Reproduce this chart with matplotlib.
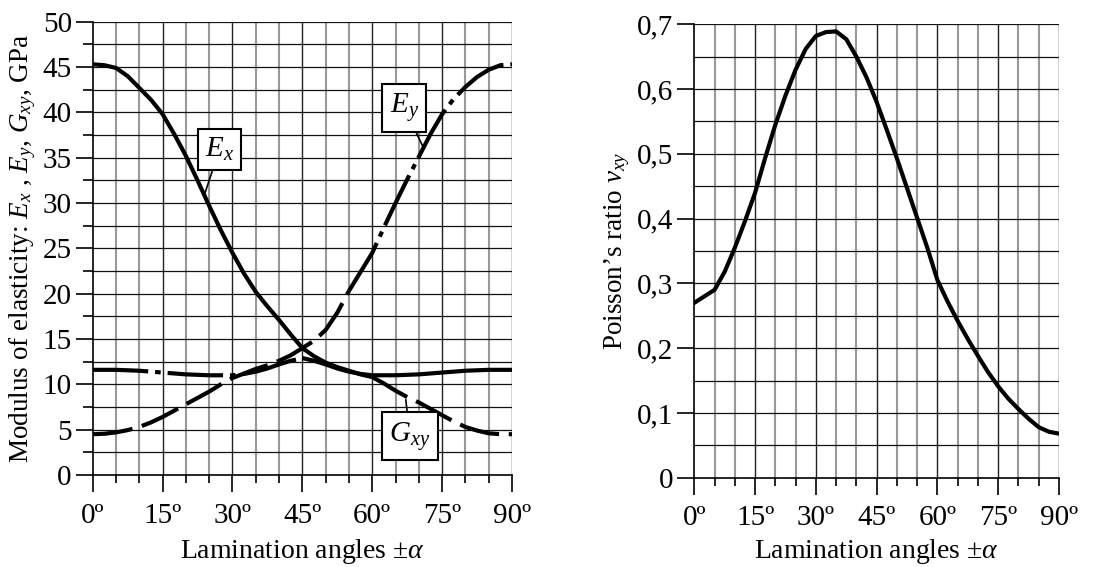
import matplotlib
matplotlib.use("Agg")
import matplotlib.pyplot as plt
import numpy as np
from matplotlib.ticker import MultipleLocator

plt.rcParams['font.family'] = ['Liberation Serif', 'DejaVu Serif']
plt.rcParams['mathtext.fontset'] = 'custom'
plt.rcParams['mathtext.rm'] = 'Liberation Serif'
plt.rcParams['mathtext.it'] = 'Liberation Serif:italic'
plt.rcParams['lines.scale_dashes'] = False

# ---- data ----
angles = [0, 2.5, 5, 7.5, 10, 12.5, 15, 17.5, 20, 22.5, 25, 27.5, 30, 32.5, 35, 37.5, 40, 42.5, 45,
          47.5, 50, 52.5, 55, 57.5, 60, 62.5, 65, 67.5, 70, 72.5, 75, 77.5, 80, 82.5, 85, 87.5, 90]
Ex = [45.3, 45.2, 44.9, 44.0, 42.7, 41.4, 39.8, 37.6, 35.2, 32.5, 29.7, 27.0, 24.5, 22.2, 20.2, 18.6, 17.1, 15.5, 14.0,
      13.1, 12.4, 11.9, 11.5, 11.1, 10.8, 10.1, 9.3, 8.6, 8.0, 7.3, 6.6, 5.9, 5.3, 4.9, 4.6, 4.5, 4.5]
Ey = [4.5, 4.55, 4.7, 4.95, 5.3, 5.8, 6.4, 7.1, 7.8, 8.5, 9.2, 10.0, 10.7, 11.2, 11.7, 12.1, 12.6, 13.2, 14.0,
      14.8, 16.0, 17.9, 20.3, 22.4, 24.5, 27.3, 30.0, 32.6, 35.1, 37.6, 39.8, 41.5, 42.8, 43.9, 44.7, 45.2, 45.3]
Gxy = [11.6, 11.6, 11.6, 11.55, 11.5, 11.4, 11.3, 11.2, 11.1, 11.05, 11.0, 11.0, 11.0, 11.15, 11.4, 11.75, 12.2, 12.6, 12.9,
       12.6, 12.2, 11.75, 11.4, 11.15, 11.0, 11.0, 11.0, 11.05, 11.1, 11.2, 11.3, 11.4, 11.5, 11.55, 11.6, 11.6, 11.6]

nu_angles = [0, 2.5, 5, 7.5, 10, 12.5, 15, 17.5, 20, 22.5, 25, 27.5, 30, 32.5, 35, 37.5, 40, 42.5, 45,
             47.5, 50, 52.5, 55, 57.5, 60, 62.5, 65, 67.5, 70, 72.5, 75, 77.5, 80, 82.5, 85, 87.5, 90]
nu = [0.270, 0.280, 0.290, 0.318, 0.355, 0.396, 0.440, 0.494, 0.545, 0.590, 0.630, 0.662, 0.682, 0.688, 0.689,
      0.677, 0.650, 0.618, 0.580, 0.537, 0.493, 0.447, 0.401, 0.355, 0.305, 0.272, 0.242, 0.214, 0.188, 0.163,
      0.141, 0.122, 0.106, 0.091, 0.078, 0.071, 0.068]

xtick_values = [0, 15, 30, 45, 60, 75, 90]
xtick_labels = ['0º', '15º', '30º', '45º', '60º', '75º', '90º']
left_ylabel = 'Modulus of elasticity: $E_x$ , $E_y$, $G_{xy}$, GPa'
right_ylabel = 'Poisson’s ratio $\\nu_{xy}$'
xlabel = 'Lamination angles ±$\\alpha$'

W, H = 1106, 567
fig = plt.figure(figsize=(W / 100, H / 100), dpi=100)

def px_rect(x0, y0, x1, y1):
    return [x0 / W, 1 - y1 / H, (x1 - x0) / W, (y1 - y0) / H]

ax1 = fig.add_axes(px_rect(92.7, 21.7, 512, 475))
ax2 = fig.add_axes(px_rect(694.3, 24.3, 1059, 477.7))

FS = 21
FS_YL = 19.5
FS_XL = 20

def style_axes(ax, ymax, ymajor, yminor, yfmt, yminor_ticks):
    ax.set_xlim(0, 90)
    ax.set_ylim(0, ymax)
    ax.set_xticks(xtick_values)
    ax.set_xticklabels(xtick_labels)
    ax.xaxis.set_minor_locator(MultipleLocator(5))
    yt = np.arange(0, ymax + 1e-9, ymajor)
    ax.set_yticks(yt)
    ax.set_yticklabels([yfmt(v) for v in yt])
    ax.yaxis.set_minor_locator(MultipleLocator(yminor))
    ax.tick_params(axis='both', which='major', direction='out', length=12, width=1.2,
                   labelsize=FS, color='black', pad=3)
    ax.tick_params(axis='x', which='minor', direction='out', length=6, width=1.2, color='black')
    if yminor_ticks:
        ax.tick_params(axis='y', which='minor', direction='out', length=7, width=1.2, color='black')
    else:
        ax.tick_params(axis='y', which='minor', length=0)
    ax.tick_params(axis='x', which='major', pad=8)
    ax.grid(False)
    for v in np.arange(5, 90, 5):
        if v % 15 == 0:
            ax.axvline(v, color='#222222', lw=1.0, zorder=1)
        else:
            ax.axvline(v, color='#999999', lw=1.5, zorder=1)
    for v in np.arange(yminor, ymax + 1e-9, yminor):
        ax.axhline(v, color='#111111', lw=0.9, zorder=1)
    for s in ['top', 'right']:
        ax.spines[s].set_visible(False)
    ax.spines['left'].set_linewidth(1.2)
    ax.spines['bottom'].set_linewidth(1.2)
    ax.axvline(90, color='#222222', lw=1.0, zorder=1)

style_axes(ax1, 50, 5, 2.5, lambda v: f'{int(round(v))}', True)
style_axes(ax2, 0.7, 0.1, 0.05, lambda v: '0' if v < 1e-9 else f'{v:.1f}'.replace('.', ','), False)

LW = 3.0
dash_long = (0, (29, 7))
dash_dot = (0, (40, 5, 4, 5))

a = np.array(angles)
Ex_a, Ey_a, G_a = np.array(Ex), np.array(Ey), np.array(Gxy)

# Ex: solid up to 60, dashed after
m1 = a <= 60
m2 = a >= 60
ax1.plot(a[m1], Ex_a[m1], color='black', lw=LW, solid_capstyle='butt', solid_joinstyle='round', zorder=3)
ax1.plot(a[m2], Ex_a[m2], color='black', lw=LW, linestyle=dash_long, dash_capstyle='butt', zorder=3)
# Ey: dashed up to 55, dash-dot after
m1 = a <= 55
m2 = a >= 55
ax1.plot(a[m1], Ey_a[m1], color='black', lw=LW, linestyle=dash_long, dash_capstyle='butt', zorder=3)
ax1.plot(a[m2], Ey_a[m2], color='black', lw=LW, linestyle=dash_dot, dash_capstyle='butt', zorder=3)
# Gxy: dash-dot up to 45, solid after
m1 = a <= 45
m2 = a >= 45
ax1.plot(a[m1], G_a[m1], color='black', lw=LW, linestyle=dash_dot, dash_capstyle='butt', zorder=3)
ax1.plot(a[m2], G_a[m2], color='black', lw=LW, solid_capstyle='butt', solid_joinstyle='round', zorder=3)

ax2.plot(nu_angles, nu, color='black', lw=LW, solid_joinstyle='round', zorder=3)

box = dict(boxstyle='square,pad=0.25', facecolor='white', edgecolor='black', lw=1.5)
arrow = dict(arrowstyle='-', color='black', lw=1.2, shrinkA=0, shrinkB=0)
ax1.annotate('$E_x$', xy=(24.1, 31.1), xytext=(27.2, 35.9), fontsize=FS, ha='center', va='center',
             bbox=box, arrowprops=arrow, zorder=5)
ax1.annotate('$E_y$', xy=(70.9, 36.2), xytext=(66.9, 40.5), fontsize=FS, ha='center', va='center',
             bbox=box, arrowprops=arrow, zorder=5)
ax1.annotate('$G_{xy}$', xy=(67.2, 8.3), xytext=(68.1, 4.3), fontsize=FS, ha='center', va='center',
             bbox=box, arrowprops=arrow, zorder=5)

ax1.set_ylabel(left_ylabel, fontsize=FS_YL)
ax2.set_ylabel(right_ylabel, fontsize=FS_YL)
ax1.set_xlabel(xlabel, fontsize=FS_XL)
ax2.set_xlabel(xlabel, fontsize=FS_XL)
ax1.yaxis.set_label_coords(-0.130, 0.5)
ax2.yaxis.set_label_coords(-0.171, 0.5)
ax1.xaxis.set_label_coords(0.5, -0.137)
ax2.xaxis.set_label_coords(0.5, -0.131)

fig.savefig('out.png', dpi=100, facecolor='white')
